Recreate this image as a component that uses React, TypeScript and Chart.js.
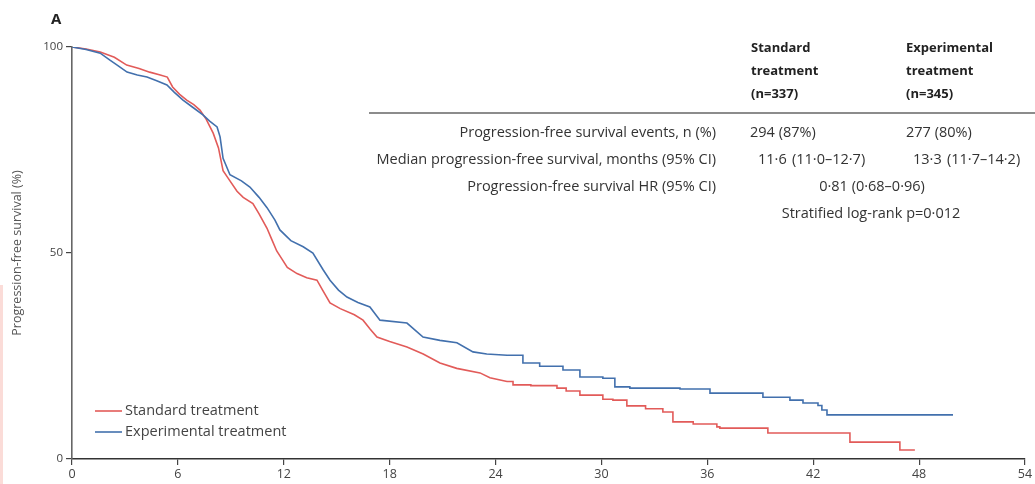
import { useEffect, useRef } from "react";
import { Chart, registerables } from "chart.js";

Chart.register(...registerables);

// Kaplan–Meier progression-free survival, months vs percent progression-free
const monthTicks = [0, 6, 12, 18, 24, 30, 36, 42, 48, 54];
const survivalTicks = [0, 50, 100];

const standardMonths = [
  0, 0.8, 1.6, 2.4, 3.1, 3.8, 4.4, 5.0, 5.4, 5.7, 6.1, 6.5, 6.9, 7.25, 7.6, 8.0, 8.3, 8.56, 8.95,
  9.35, 9.7, 10.25, 10.6, 11.05, 11.3, 11.6, 11.9, 12.2, 12.75, 13.3, 13.88, 14.2, 14.62, 15.2,
  16.0, 16.49, 16.9, 17.28, 18.0, 18.98, 19.9, 20.85, 21.8, 23.12, 23.68, 24.65, 24.99, 26.0,
  27.48, 28.0, 28.78, 30.08, 30.65, 31.44, 32.5, 33.48, 34.05, 35.2, 36.54, 36.71, 39.43, 44.08,
  46.91, 47.76,
];
const standardSurvival = [
  100, 99.5, 98.8, 97.5, 95.6, 94.8, 93.9, 93.2, 92.7, 90.3, 88.5, 87.1, 86.0, 84.7, 82.5, 79.1,
  75.5, 70.0, 67.5, 65.0, 63.5, 62.0, 59.5, 56.0, 53.5, 50.5, 48.5, 46.5, 45.0, 44.0, 43.4, 41.0,
  37.9, 36.5, 35.0, 33.7, 31.5, 29.6, 28.5, 27.2, 25.5, 23.3, 22.0, 20.9, 19.7, 18.8, 18.0, 17.8,
  17.2, 16.5, 15.5, 14.5, 14.3, 12.9, 12.2, 11.4, 9.0, 8.5, 7.8, 7.5, 6.3, 4.1, 2.2, 2.2,
];

const experimentalMonths = [
  0, 0.8, 1.6, 2.15, 2.6, 3.12, 3.7, 4.25, 4.8, 5.38, 5.8, 6.29, 6.8, 7.42, 7.8, 8.22, 8.39, 8.56,
  8.95, 9.6, 10.08, 10.6, 11.05, 11.5, 11.78, 12.4, 13.1, 13.65, 14.22, 14.62, 15.1, 15.58, 16.2,
  16.88, 17.45, 18.98, 19.89, 20.85, 21.81, 22.72, 23.5, 24.65, 25.55, 26.5, 27.82, 28.78, 30.08,
  30.76, 31.61, 34.45, 36.15, 39.15, 40.68, 41.42, 42.27, 42.49, 42.78, 49.92,
];
const experimentalSurvival = [
  100, 99.4, 98.5, 96.8, 95.5, 93.9, 93.2, 92.7, 91.8, 90.8, 89.0, 87.1, 85.5, 83.5, 82.0, 80.6,
  78.2, 73.0, 69.0, 67.5, 66.0, 63.5, 61.0, 58.0, 55.6, 53.0, 51.5, 50.0, 46.0, 43.4, 41.0, 39.3,
  38.0, 36.9, 33.7, 33.0, 29.6, 28.8, 28.2, 26.0, 25.5, 25.2, 23.3, 22.5, 21.6, 19.9, 19.6, 17.5,
  17.2, 17.0, 16.0, 15.0, 14.3, 13.6, 13.0, 11.9, 10.7, 10.7,
];

// Before this month the events are dense enough that the curve reads as a continuous
// line; after it, individual steps are drawn.
const denseUntilMonth = 24.65;

const seriesLabels = ["Standard treatment", "Experimental treatment"];
const seriesColors = ["#e25b59", "#4270ad"];

const panelLetter = "A";
const yAxisTitle = "Progression-free survival (%)";

const tableHeaders = [
  ["Standard", "treatment", "(n=337)"],
  ["Experimental", "treatment", "(n=345)"],
];
const tableRowLabels = [
  "Progression-free survival events, n (%)",
  "Median progression-free survival, months (95% CI)",
  "Progression-free survival HR (95% CI)",
];
const eventCounts = ["294 (87%)", "277 (80%)"];
const medianValues = ["11·6", "13·3"];
const medianIntervals = ["(11·0–12·7)", "(11·7–14·2)"];
const hazardRatio = "0·81 (0·68–0·96)";
const logRankText = "Stratified log-rank p=0·012";

const FONT = "'Open Sans', 'Noto Sans', sans-serif";

const annotations = {
  id: "kmAnnotations",
  afterDraw(chart: Chart) {
    const ctx = chart.ctx;
    const area = chart.chartArea;
    ctx.save();

    // panel letter
    ctx.fillStyle = "#222";
    ctx.font = `bold 15px ${FONT}`;
    ctx.textBaseline = "middle";
    ctx.textAlign = "left";
    ctx.fillText(panelLetter, 51, 20);

    // legend, lower left inside the plot
    const legendX = area.left + 23;
    const legendY = [411, 432];
    ctx.font = `14.5px ${FONT}`;
    seriesLabels.forEach((label, i) => {
      ctx.strokeStyle = seriesColors[i];
      ctx.lineWidth = 1.6;
      ctx.beginPath();
      ctx.moveTo(legendX, legendY[i]);
      ctx.lineTo(legendX + 27, legendY[i]);
      ctx.stroke();
      ctx.fillStyle = "#444";
      ctx.fillText(label, legendX + 30, legendY[i]);
    });

    // summary table, upper right
    const colX = [751, 906];
    const headerY = [48, 71, 94];
    ctx.fillStyle = "#222";
    ctx.font = `bold 13px ${FONT}`;
    tableHeaders.forEach((lines, c) => {
      lines.forEach((line, r) => ctx.fillText(line, colX[c], headerY[r]));
    });

    ctx.strokeStyle = "#666";
    ctx.lineWidth = 1.6;
    ctx.beginPath();
    ctx.moveTo(369, 113);
    ctx.lineTo(chart.width, 113);
    ctx.stroke();

    const rowY = [133, 160, 187, 214];
    ctx.font = `14.5px ${FONT}`;
    ctx.fillStyle = "#333";
    ctx.textAlign = "right";
    tableRowLabels.forEach((label, i) => ctx.fillText(label, 716, rowY[i]));

    ctx.textAlign = "left";
    ctx.fillText(eventCounts[0], 750, rowY[0]);
    ctx.fillText(eventCounts[1], 906, rowY[0]);
    ctx.fillText(medianValues[0], 758, rowY[1]);
    ctx.fillText(medianIntervals[0], 792, rowY[1]);
    ctx.fillText(medianValues[1], 913, rowY[1]);
    ctx.fillText(medianIntervals[1], 947, rowY[1]);

    ctx.textAlign = "center";
    ctx.fillText(hazardRatio, 872, rowY[2]);
    ctx.fillText(logRankText, 871, rowY[3]);

    ctx.restore();
  },
};

function toPoints(xs: number[], ys: number[]) {
  return xs.map((x, i) => ({ x, y: ys[i] }));
}

function curveDatasets(xs: number[], ys: number[], color: string) {
  const pts = toPoints(xs, ys);
  const common = { borderColor: color, borderWidth: 1.6, pointRadius: 0, fill: false };
  return [
    { ...common, data: pts.filter((p) => p.x <= denseUntilMonth), stepped: false },
    { ...common, data: pts.filter((p) => p.x >= denseUntilMonth), stepped: "before" as const },
  ];
}

export default function App() {
  const canvasRef = useRef<HTMLCanvasElement | null>(null);

  useEffect(() => {
    if (!canvasRef.current) return;
    const chart = new Chart(canvasRef.current, {
      type: "line",
      data: {
        datasets: [
          ...curveDatasets(experimentalMonths, experimentalSurvival, seriesColors[1]),
          ...curveDatasets(standardMonths, standardSurvival, seriesColors[0]),
        ],
      },
      options: {
        animation: false,
        responsive: true,
        maintainAspectRatio: false,
        layout: { padding: { top: 47, right: 10, left: 0, bottom: 0 } },
        plugins: {
          legend: { display: false },
          tooltip: { enabled: false },
        },
        scales: {
          x: {
            type: "linear",
            min: monthTicks[0],
            max: monthTicks[monthTicks.length - 1],
            afterBuildTicks: (scale: any) => {
              scale.ticks = monthTicks.map((v) => ({ value: v }));
            },
            afterFit: (scale: any) => {
              scale.height = 25;
            },
            grid: { drawOnChartArea: false, drawTicks: true, tickLength: 6, color: "#444", lineWidth: 1.2 },
            border: { display: true, color: "#333", width: 1.6 },
            ticks: {
              color: "#444",
              padding: 2,
              maxRotation: 0,
              font: { family: FONT, size: 12.5 },
            },
          },
          y: {
            type: "linear",
            min: survivalTicks[0],
            max: survivalTicks[survivalTicks.length - 1],
            afterBuildTicks: (scale: any) => {
              scale.ticks = survivalTicks.map((v) => ({ value: v }));
            },
            afterFit: (scale: any) => {
              scale.width = 72;
            },
            grid: { drawOnChartArea: false, drawTicks: true, tickLength: 6, color: "#444", lineWidth: 1.2 },
            border: { display: true, color: "#666", width: 1.6 },
            ticks: {
              color: "#444",
              padding: 3,
              font: { family: FONT, size: 11.5 },
            },
            title: {
              display: true,
              text: yAxisTitle,
              color: "#555",
              font: { family: FONT, size: 12.5 },
              padding: { top: 10, bottom: 0 },
            },
          },
        },
      },
      plugins: [annotations],
    });
    return () => chart.destroy();
  }, []);

  return (
    <div style={{ position: "absolute", left: 0, top: 0, width: 1035, height: 484, background: "#fff" }}>
      <canvas ref={canvasRef} />
      <div
        style={{
          position: "absolute",
          left: 0,
          top: 285,
          width: 3,
          height: 199,
          background: "#fbdcd8",
        }}
      />
    </div>
  );
}
